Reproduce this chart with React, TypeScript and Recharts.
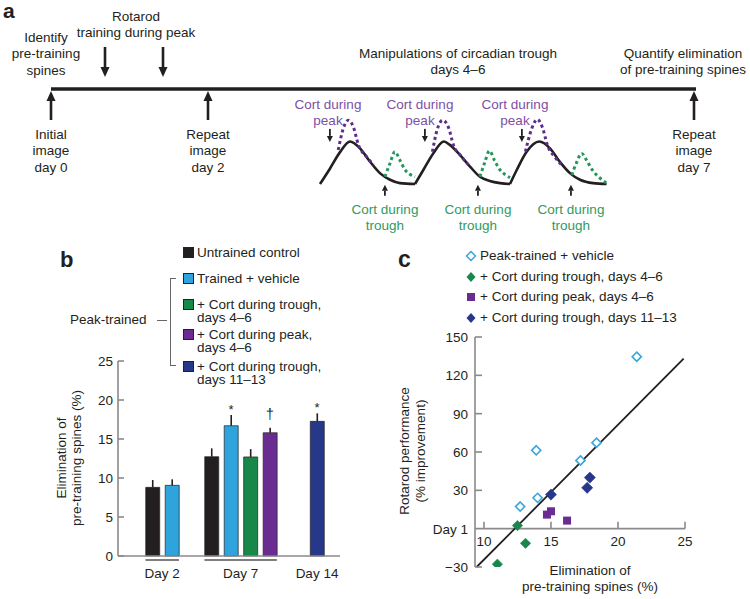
import React from "react";
import {
  Bar,
  Cell,
  ComposedChart,
  ErrorBar,
  Line,
  ReferenceLine,
  Scatter,
  ScatterChart,
  XAxis,
  YAxis,
} from "recharts";

/* ---------- data ---------- */

// panel a: circadian corticosterone schematic, x = hours from start of day 4, level 0 = trough, 1 = normal peak
const CYCLE_CURVES = [
  [
    { h: 0, lvl: 0 }, { h: 2.5, lvl: 0.36 }, { h: 5.05, lvl: 0.75 }, { h: 7.6, lvl: 1.0 },
    { h: 10.1, lvl: 0.84 }, { h: 12.6, lvl: 0.53 }, { h: 15.2, lvl: 0.25 }, { h: 17.7, lvl: 0.1 },
    { h: 20.2, lvl: 0.02 }, { h: 24, lvl: 0 },
  ],
  [
    { h: 24, lvl: 0 }, { h: 26.1, lvl: 0.33 }, { h: 28.6, lvl: 0.72 }, { h: 31.3, lvl: 1.0 },
    { h: 32.8, lvl: 0.92 }, { h: 35.4, lvl: 0.68 }, { h: 37.9, lvl: 0.41 }, { h: 40.4, lvl: 0.17 },
    { h: 42.9, lvl: 0.07 }, { h: 45.5, lvl: 0.02 }, { h: 48, lvl: 0 },
  ],
  [
    { h: 48, lvl: 0 }, { h: 49.7, lvl: 0.33 }, { h: 52.2, lvl: 0.76 }, { h: 55.4, lvl: 1.0 },
    { h: 58.1, lvl: 0.84 }, { h: 60.6, lvl: 0.52 }, { h: 63.2, lvl: 0.25 }, { h: 65.7, lvl: 0.1 },
    { h: 69, lvl: 0.02 }, { h: 72.4, lvl: 0 },
  ],
];

const CORT_PEAK_CURVES = [
  [
    { h: 4.6, lvl: 0.8 }, { h: 5.9, lvl: 1.31 }, { h: 7.15, lvl: 1.5 }, { h: 8.4, lvl: 1.35 },
    { h: 9.7, lvl: 0.92 }, { h: 11.8, lvl: 0.64 }, { h: 13.5, lvl: 0.45 },
  ],
  [
    { h: 28.4, lvl: 0.76 }, { h: 29.6, lvl: 1.28 }, { h: 31.0, lvl: 1.5 }, { h: 32.5, lvl: 1.32 },
    { h: 33.7, lvl: 0.92 }, { h: 35.6, lvl: 0.66 }, { h: 37.5, lvl: 0.45 },
  ],
  [
    { h: 51.9, lvl: 0.76 }, { h: 53.4, lvl: 1.28 }, { h: 54.9, lvl: 1.52 }, { h: 56.2, lvl: 1.33 },
    { h: 57.5, lvl: 0.9 }, { h: 59.3, lvl: 0.64 }, { h: 61.3, lvl: 0.42 },
  ],
];

const CORT_TROUGH_CURVES = [
  [
    { h: 16.4, lvl: 0.17 }, { h: 17.7, lvl: 0.49 }, { h: 18.9, lvl: 0.76 }, { h: 20.2, lvl: 0.56 },
    { h: 21.5, lvl: 0.33 }, { h: 22.7, lvl: 0.23 }, { h: 24, lvl: 0.17 },
  ],
  [
    { h: 40.4, lvl: 0.17 }, { h: 41.6, lvl: 0.5 }, { h: 42.8, lvl: 0.78 }, { h: 44.1, lvl: 0.55 },
    { h: 45.5, lvl: 0.33 }, { h: 46.8, lvl: 0.22 }, { h: 48, lvl: 0.15 },
  ],
  [
    { h: 63.6, lvl: 0.21 }, { h: 64.8, lvl: 0.5 }, { h: 66.1, lvl: 0.72 }, { h: 67.4, lvl: 0.55 },
    { h: 68.8, lvl: 0.33 }, { h: 70.6, lvl: 0.15 }, { h: 72.4, lvl: 0.02 },
  ],
];

// cort injection times (hours) for the small arrows
const CORT_PEAK_TIMES = [2.5, 26.5, 51];
const CORT_TROUGH_TIMES = [16.4, 39.9, 63.4];

// panel b: elimination of pre-training spines (%)
const GROUPS = ["Day 2", "Day 7", "Day 14"];
const TREATMENTS = [
  ["Untrained control"],
  ["Trained + vehicle"],
  ["+ Cort during trough,", "days 4–6"],
  ["+ Cort during peak,", "days 4–6"],
  ["+ Cort during trough,", "days 11–13"],
];
const GROUP_BARS = [[0, 1], [0, 1, 2, 3], [4]];
const ELIM_MEAN = [[8.8, 9.06], [12.73, 16.7, 12.7, 15.8], [17.26]];
const ELIM_SEM = [[0.94, 0.77], [1.07, 1.38, 1.0, 0.65], [1.03]];
const SIG_MARKS = [["", ""], ["", "*", "", "†"], ["*"]];

// panel c: rotarod performance vs spine elimination
const SERIES_C = [
  "Peak-trained + vehicle",
  "+ Cort during trough, days 4–6",
  "+ Cort during peak, days 4–6",
  "+ Cort during trough, days 11–13",
];
const VEHICLE_PTS = [[21.4, 134.6], [13.9, 61.3], [18.4, 67.3], [17.2, 53.4], [14.0, 24.1], [12.7, 17.3]];
const TROUGH46_PTS = [[12.5, 2.4], [13.1, -11.5], [11.0, -27.8]];
const PEAK46_PTS = [[14.7, 11], [15.0, 13.6], [16.2, 6.3]];
const TROUGH1113_PTS = [[15.0, 26.7], [17.9, 40], [17.7, 32]];
const FIT = { slope: 10.55, intercept: -129.7, from: 9.45, to: 24.9 };
const C_X_TICKS = [10, 15, 20, 25];
const C_Y_TICKS = [-30, 0, 30, 60, 90, 120, 150];

/* ---------- styles / layout ---------- */

const FONT = 'Arial, "Liberation Sans", Helvetica, sans-serif';
const INK = "#231f20";
const AXIS = "#8a8a8a";
const PURPLE = "#5e2d8c";
const GREEN = "#23965a";
const PURPLE_TXT = "#7d4fa6";
const GREEN_TXT = "#2f9a62";
const TREAT_COLORS = ["#231f20", "#2ea3dc", "#17874a", "#6a2c91", "#27378a"];
const C_COLORS = ["#3aa6d9", "#17874a", "#6a2c91", "#27378a"];
const FS = 13.5;

// panel a geometry (schedule position axis is in px-like schematic units)
const A_H = 240;
const HOUR0 = 320;
const PX_PER_HOUR = 95 / 24;
const TROUGH_Y = 184;
const PX_PER_LVL = 42.5;
const TIMELINE = [{ x: 51, y: 89 }, { x: 696, y: 89 }];
const TRAINING_ARROWS = [{ x: 105, y: 77 }, { x: 163, y: 77 }];
const IMAGING_ARROWS = [{ x: 51, y: 91 }, { x: 208, y: 91 }, { x: 694, y: 91 }];

// panel b geometry
const B_W = 350;
const B_H = 299;
const B_MARGIN = { top: 61, right: 10, bottom: 0, left: 0 };
const B_YW = 118;
const B_XH = 43;
const B_DOMAIN: [number, number] = [0, 11.4];
const GROUP_START = [1.77, 4.8, 10.22];
const BAR_W = 14;
const SLOT_PX = (B_W - B_MARGIN.right - B_YW) / (B_DOMAIN[1] - B_DOMAIN[0]);

// panel c geometry
const C_W = 410;
const C_H = 299;
const C_MARGIN = { top: 37, right: 65, bottom: 0, left: 0 };
const C_YW = 135;
const C_XH = 32;
const C_PLOT_H = C_H - C_MARGIN.top - C_XH;
const C_YDOM: [number, number] = [-30, 150];

/* ---------- helpers ---------- */

function Txt({ x, y, lines, color = INK, align = "center", size = FS, lh = 16.5, weight = 400 }: any) {
  return (
    <div
      style={{
        position: "absolute",
        left: x,
        top: y - lh / 2,
        transform: align === "center" ? "translateX(-50%)" : undefined,
        textAlign: align,
        fontSize: size,
        lineHeight: `${lh}px`,
        color,
        fontWeight: weight,
        whiteSpace: "nowrap",
      }}
    >
      {lines.map((l: string, i: number) => (
        <div key={i}>{l}</div>
      ))}
    </div>
  );
}

function VLabel({ cx, cy, lines, lh = 15 }: any) {
  return (
    <div
      style={{
        position: "absolute",
        left: cx,
        top: cy,
        transform: "translate(-50%,-50%) rotate(-90deg)",
        textAlign: "center",
        fontSize: FS,
        lineHeight: `${lh}px`,
        whiteSpace: "nowrap",
      }}
    >
      {lines.map((l: string, i: number) => (
        <div key={i}>{l}</div>
      ))}
    </div>
  );
}

function arrowShape(dir: 1 | -1, len: number, head: number, w: number, sw: number) {
  // tip at (cx, cy); dir 1 = pointing down, -1 = pointing up
  return (p: any) => {
    const { cx, cy } = p;
    if (cx == null || cy == null) return <g />;
    const tail = cy - dir * len;
    const base = cy - dir * head;
    return (
      <g>
        <line x1={cx} x2={cx} y1={tail} y2={base} stroke={INK} strokeWidth={sw} />
        <path d={`M${cx - w / 2},${base} L${cx + w / 2},${base} L${cx},${cy} Z`} fill={INK} />
      </g>
    );
  };
}

/* ---------- panel a ---------- */

function TimelinePanel() {
  const hrDomain: [number, number] = [-HOUR0 / PX_PER_HOUR, (750 - HOUR0) / PX_PER_HOUR];
  const lvlDomain: [number, number] = [(TROUGH_Y - A_H) / PX_PER_LVL, TROUGH_Y / PX_PER_LVL];
  const peakArrows = CORT_PEAK_TIMES.map((h) => ({ h, lvl: 0.99 }));
  const troughArrows = CORT_TROUGH_TIMES.map((h) => ({ h, lvl: -0.02 }));
  return (
    <ComposedChart width={750} height={A_H} margin={{ top: 0, right: 0, bottom: 0, left: 0 }}>
      <XAxis xAxisId="pos" type="number" dataKey="x" domain={[0, 750]} hide allowDataOverflow />
      <XAxis xAxisId="hr" type="number" dataKey="h" domain={hrDomain} hide allowDataOverflow />
      <YAxis yAxisId="pos" type="number" dataKey="y" domain={[0, A_H]} reversed hide allowDataOverflow />
      <YAxis yAxisId="cort" type="number" dataKey="lvl" domain={lvlDomain} hide allowDataOverflow />
      <Line
        xAxisId="pos"
        yAxisId="pos"
        data={TIMELINE}
        dataKey="y"
        stroke={INK}
        strokeWidth={3.5}
        dot={false}
        isAnimationActive={false}
      />
      {CYCLE_CURVES.map((d, i) => (
        <Line
          key={`c${i}`}
          xAxisId="hr"
          yAxisId="cort"
          data={d}
          dataKey="lvl"
          type="monotone"
          stroke={INK}
          strokeWidth={2.6}
          dot={false}
          isAnimationActive={false}
        />
      ))}
      {CORT_PEAK_CURVES.map((d, i) => (
        <Line
          key={`p${i}`}
          xAxisId="hr"
          yAxisId="cort"
          data={d}
          dataKey="lvl"
          type="monotone"
          stroke={PURPLE}
          strokeWidth={3}
          strokeDasharray="3 3"
          dot={false}
          isAnimationActive={false}
        />
      ))}
      {CORT_TROUGH_CURVES.map((d, i) => (
        <Line
          key={`t${i}`}
          xAxisId="hr"
          yAxisId="cort"
          data={d}
          dataKey="lvl"
          type="monotone"
          stroke={GREEN}
          strokeWidth={3}
          strokeDasharray="3 3"
          dot={false}
          isAnimationActive={false}
        />
      ))}
      <Scatter xAxisId="pos" yAxisId="pos" data={TRAINING_ARROWS} shape={arrowShape(1, 30, 10, 9, 2.6)} isAnimationActive={false} />
      <Scatter xAxisId="pos" yAxisId="pos" data={IMAGING_ARROWS} shape={arrowShape(-1, 29, 10, 9, 2.6)} isAnimationActive={false} />
      <Scatter xAxisId="hr" yAxisId="cort" data={peakArrows} shape={arrowShape(1, 13, 6, 6, 1.8)} isAnimationActive={false} />
      <Scatter xAxisId="hr" yAxisId="cort" data={troughArrows} shape={arrowShape(-1, 11, 6, 6, 1.8)} isAnimationActive={false} />
    </ComposedChart>
  );
}

/* ---------- panel b ---------- */

function SpineBars() {
  const rows = GROUP_BARS.flatMap((bars, g) =>
    bars.map((t, i) => ({
      pos: GROUP_START[g] + i,
      mean: ELIM_MEAN[g][i],
      err: [0, ELIM_SEM[g][i]],
      top: ELIM_MEAN[g][i] + ELIM_SEM[g][i],
      treat: t,
      mark: SIG_MARKS[g][i],
    }))
  );
  const marks = rows.filter((r) => r.mark);
  const centers = GROUP_BARS.map((b, g) => GROUP_START[g] + (b.length - 1) / 2);

  const yTick = (p: any) => (
    <g>
      <line x1={p.x + 5} x2={p.x + 11} y1={p.y} y2={p.y} stroke={AXIS} strokeWidth={1.6} />
      <text x={p.x} y={p.y} dy="0.36em" textAnchor="end" fontSize={FS} fontFamily={FONT} fill={INK}>
        {p.payload.value}
      </text>
    </g>
  );
  const xTick = (p: any) => {
    const g = centers.findIndex((c) => Math.abs(c - p.payload.value) < 1e-6);
    const n = GROUP_BARS[g].length;
    const half = ((n - 1) / 2) * SLOT_PX + BAR_W / 2;
    return (
      <g>
        {n > 1 && <line x1={p.x - half} x2={p.x + half} y1={p.y + 4} y2={p.y + 4} stroke="#555" strokeWidth={1.4} />}
        <text x={p.x} y={p.y + 22} textAnchor="middle" fontSize={FS} fontFamily={FONT} fill={INK}>
          {GROUPS[g]}
        </text>
      </g>
    );
  };
  const markShape = (p: any) => {
    const m = p.payload.mark;
    return (
      <text
        x={p.cx}
        y={m === "†" ? p.cy - 9 : p.cy - 1}
        textAnchor="middle"
        fontSize={m === "†" ? 14 : 13}
        fontFamily={FONT}
        fill={INK}
        stroke="none"
      >
        {m}
      </text>
    );
  };

  return (
    <ComposedChart width={B_W} height={B_H} data={rows} margin={B_MARGIN}>
      <XAxis
        type="number"
        dataKey="pos"
        domain={B_DOMAIN}
        ticks={centers}
        interval={0}
        height={B_XH}
        tickSize={0}
        tickMargin={0}
        tickLine={false}
        axisLine={{ stroke: AXIS, strokeWidth: 1.6 }}
        tick={xTick}
        allowDataOverflow
      />
      <YAxis
        type="number"
        domain={[0, 25]}
        ticks={[0, 5, 10, 15, 20, 25]}
        interval={0}
        width={B_YW}
        tickSize={0}
        tickMargin={5}
        tickLine={false}
        axisLine={{ stroke: AXIS, strokeWidth: 1.6 }}
        tick={yTick}
      />
      <Bar dataKey="mean" barSize={BAR_W} stroke="#222" strokeWidth={0.7} isAnimationActive={false}>
        {rows.map((r, i) => (
          <Cell key={i} fill={TREAT_COLORS[r.treat]} />
        ))}
        <ErrorBar dataKey="err" width={0} stroke={INK} strokeWidth={1.6} direction="y" />
      </Bar>
      <Scatter data={marks} dataKey="top" fill={INK} shape={markShape} isAnimationActive={false} />
    </ComposedChart>
  );
}

/* ---------- panel c ---------- */

function diamond(color: string, r: number, open: boolean) {
  return (p: any) => (
    <path
      d={`M${p.cx},${p.cy - r} L${p.cx + r},${p.cy} L${p.cx},${p.cy + r} L${p.cx - r},${p.cy} Z`}
      fill={open ? "#fff" : color}
      stroke={color}
      strokeWidth={open ? 1.6 : 0.5}
    />
  );
}
function square(color: string, s: number) {
  return (p: any) => <rect x={p.cx - s / 2} y={p.cy - s / 2} width={s} height={s} fill={color} />;
}

function RotarodScatter() {
  const toXY = (a: number[][]) => a.map(([x, y]) => ({ x, y }));
  const zeroOffset = (C_PLOT_H * (0 - C_YDOM[0])) / (C_YDOM[1] - C_YDOM[0]);
  const yTick = (p: any) => {
    const v = p.payload.value;
    const label = v === 0 ? "Day 1" : v < 0 ? `−${Math.abs(v)}` : `${v}`;
    return (
      <g>
        {v !== 0 && <line x1={p.x + 7} x2={p.x + 14} y1={p.y} y2={p.y} stroke={AXIS} strokeWidth={1.6} />}
        <text x={p.x} y={p.y} dy="0.36em" textAnchor="end" fontSize={FS} fontFamily={FONT} fill={INK}>
          {label}
        </text>
      </g>
    );
  };
  const xTick = (p: any) => {
    const zy = p.y - zeroOffset;
    return (
      <g>
        <line x1={p.x} x2={p.x} y1={zy} y2={zy - 7} stroke={AXIS} strokeWidth={1.6} />
        <text x={p.x} y={zy + 17} textAnchor="middle" fontSize={FS} fontFamily={FONT} fill={INK}>
          {p.payload.value}
        </text>
      </g>
    );
  };
  return (
    <ScatterChart width={C_W} height={C_H} margin={C_MARGIN}>
      <XAxis
        type="number"
        dataKey="x"
        domain={[9.33, 25]}
        ticks={C_X_TICKS}
        interval={0}
        height={C_XH}
        tickSize={0}
        tickMargin={0}
        tickLine={false}
        axisLine={false}
        tick={xTick}
        allowDataOverflow
      />
      <YAxis
        type="number"
        dataKey="y"
        domain={C_YDOM}
        ticks={C_Y_TICKS}
        interval={0}
        width={C_YW}
        tickSize={0}
        tickMargin={7}
        tickLine={false}
        axisLine={{ stroke: AXIS, strokeWidth: 1.6 }}
        tick={yTick}
        allowDataOverflow
      />
      <ReferenceLine y={0} stroke={AXIS} strokeWidth={1.6} />
      <ReferenceLine
        segment={[
          { x: FIT.from, y: FIT.intercept + FIT.slope * FIT.from },
          { x: FIT.to, y: FIT.intercept + FIT.slope * FIT.to },
        ]}
        ifOverflow="visible"
        stroke={INK}
        strokeWidth={1.8}
      />
      <Scatter data={toXY(VEHICLE_PTS)} shape={diamond(C_COLORS[0], 4.6, true)} isAnimationActive={false} />
      <Scatter data={toXY(TROUGH46_PTS)} shape={diamond(C_COLORS[1], 5.2, false)} isAnimationActive={false} />
      <Scatter data={toXY(PEAK46_PTS)} shape={square(C_COLORS[2], 8)} isAnimationActive={false} />
      <Scatter data={toXY(TROUGH1113_PTS)} shape={diamond(C_COLORS[3], 5.6, false)} isAnimationActive={false} />
    </ScatterChart>
  );
}

/* ---------- page ---------- */

const B_LEGEND_ROWS = [252, 278, 304, 334, 366];
const C_LEGEND_ROWS = [256, 277, 297, 318];

export default function App() {
  return (
    <div
      style={{
        position: "relative",
        width: 750,
        height: 599,
        background: "#fff",
        fontFamily: FONT,
        color: INK,
        overflow: "hidden",
      }}
    >
      <style>{"body{margin:0}"}</style>

      {/* panel a */}
      <div style={{ position: "absolute", left: 0, top: 0 }}>
        <TimelinePanel />
      </div>
      <div style={{ position: "absolute", left: 3, top: 1, fontSize: 21, lineHeight: "20px", fontWeight: 700 }}>a</div>
      <Txt x={46} y={38} lines={["Identify", "pre-training", "spines"]} />
      <Txt x={136} y={17} lines={["Rotarod", "training during peak"]} />
      <Txt x={458} y={54} lines={["Manipulations of circadian trough", "days 4–6"]} />
      <Txt x={683} y={54} lines={["Quantify elimination", "of pre-training spines"]} />
      <Txt x={51} y={135} lines={["Initial", "image", "day 0"]} />
      <Txt x={208} y={135} lines={["Repeat", "image", "day 2"]} />
      <Txt x={694} y={135} lines={["Repeat", "image", "day 7"]} />
      {[328, 420, 515].map((x) => (
        <Txt key={`pl${x}`} x={x} y={105} lines={["Cort during", "peak"]} color={PURPLE_TXT} />
      ))}
      {[385, 478, 571].map((x) => (
        <Txt key={`tl${x}`} x={x} y={210} lines={["Cort during", "trough"]} color={GREEN_TXT} />
      ))}

      {/* panel b */}
      <div style={{ position: "absolute", left: 0, top: 300 }}>
        <SpineBars />
      </div>
      <div style={{ position: "absolute", left: 60, top: 268 - 0.85 * 22, fontSize: 22, lineHeight: "22px", fontWeight: 700 }}>b</div>
      {TREATMENTS.map((lines, i) => (
        <React.Fragment key={i}>
          <div
            style={{
              position: "absolute",
              left: 183,
              top: B_LEGEND_ROWS[i] - 5,
              width: 9,
              height: 9,
              background: TREAT_COLORS[i],
              border: "0.7px solid #222",
            }}
          />
          <Txt x={197} y={B_LEGEND_ROWS[i]} lines={lines} align="left" lh={13} />
        </React.Fragment>
      ))}
      <div style={{ position: "absolute", left: 170, top: 278, width: 5, height: 86, borderLeft: "1.3px solid #666", borderTop: "1.3px solid #666", borderBottom: "1.3px solid #666" }} />
      <div style={{ position: "absolute", left: 157, top: 320, width: 10, borderTop: "1.3px solid #666" }} />
      <Txt x={70} y={320} lines={["Peak-trained"]} align="left" />
      <VLabel cx={69} cy={458} lines={["Elimination of", "pre-training spines (%)"]} />

      {/* panel c */}
      <div style={{ position: "absolute", left: 340, top: 300 }}>
        <RotarodScatter />
      </div>
      <div style={{ position: "absolute", left: 398, top: 268 - 0.85 * 23, fontSize: 23, lineHeight: "23px", fontWeight: 700 }}>c</div>
      <svg style={{ position: "absolute", left: 460, top: 246 }} width={22} height={84}>
        {[
          <path key="0" d="M11,5.5 L15.5,10 L11,14.5 L6.5,10 Z" fill="#fff" stroke={C_COLORS[0]} strokeWidth={1.5} />,
          <path key="1" d="M11,26 L15.5,31 L11,36 L6.5,31 Z" fill={C_COLORS[1]} />,
          <rect key="2" x={7} y={47} width={8} height={8} fill={C_COLORS[2]} />,
          <path key="3" d="M11,67 L15.5,72 L11,77 L6.5,72 Z" fill={C_COLORS[3]} />,
        ]}
      </svg>
      {SERIES_C.map((s, i) => (
        <Txt key={s} x={480} y={C_LEGEND_ROWS[i]} lines={[s]} align="left" />
      ))}
      <VLabel cx={413} cy={451} lines={["Rotarod performance", "(% improvement)"]} lh={16} />
      <Txt x={590} y={571} lines={["Elimination of", "pre-training spines (%)"]} lh={16} />
    </div>
  );
}
